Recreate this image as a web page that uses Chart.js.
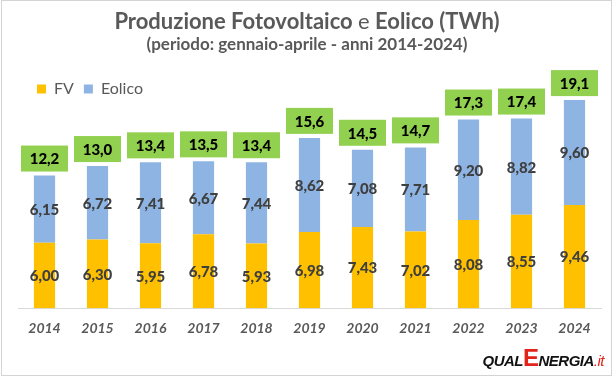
<!DOCTYPE html>
<html>
<head>
<meta charset="utf-8">
<script src="https://cdn.jsdelivr.net/npm/chart.js@4"></script>
<style>
    html, body { margin: 0; padding: 0; background: #fff; }
    #wrap { position: relative; width: 614px; height: 377px; overflow: hidden; font-family: Lato, "Open Sans", sans-serif; }
    #frame { position: absolute; left: 1px; top: 0px; width: 609px; height: 374px; border: 1px solid #d4d4d4; pointer-events: none; }
    #chart { position: absolute; left: 0; top: 0; }
    .title { position: absolute; left: 0; width: 614px; text-align: center; color: #595959; font-weight: 700; white-space: nowrap; }
    #t1 { top: 7px; font-size: 22px; }
    #t1 .thin { font-weight: 400; }
    #t2 { top: 33px; font-size: 17px; }
    #logo { position: absolute; right: 10px; top: 344px; font-family: "Liberation Sans", Arial, sans-serif; font-style: italic; font-weight: 700; font-size: 15px; color: #111; letter-spacing: -0.5px; white-space: nowrap; }
    #logo .e { color: #e2231a; font-size: 24px; font-style: normal; }
    #logo .it { color: #e2231a; font-weight: 400; }
</style>
</head>
<body>
<div id="wrap">
    <canvas id="chart" width="614" height="377"></canvas>
    <div class="title" id="t1">Produzione Fotovoltaico <span class="thin">e</span> Eolico (TWh)</div>
    <div class="title" id="t2">(periodo: gennaio-aprile - anni 2014-2024)</div>
    <div id="logo">QUAL<span class="e">E</span>NERGIA<span class="it">.it</span></div>
    <div id="frame"></div>
</div>
<script>
// data (TWh, gennaio-aprile)
const years = ['2014', '2015', '2016', '2017', '2018', '2019', '2020', '2021', '2022', '2023', '2024'];
const fv = [6.00, 6.30, 5.95, 6.78, 5.93, 6.98, 7.43, 7.02, 8.08, 8.55, 9.46];
const eolico = [6.15, 6.72, 7.41, 6.67, 7.44, 8.62, 7.08, 7.71, 9.20, 8.82, 9.60];
const totals = [12.2, 13.0, 13.4, 13.5, 13.4, 15.6, 14.5, 14.7, 17.3, 17.4, 19.1];

const FONT = 'Lato, "Open Sans", sans-serif';

const fmt = (v, d) => v.toFixed(d).replace('.', ',');

// values inside the bars + green total boxes on top
const barLabels = {
    id: 'barLabels',
    afterDatasetsDraw(chart) {
        const ctx = chart.ctx;
        const yScale = chart.scales.y;
        ctx.save();
        ctx.textAlign = 'center';
        ctx.textBaseline = 'middle';
        ctx.font = `900 15px ${FONT}`;
        ctx.fillStyle = '#3f3f3f';
        chart.data.datasets.forEach((ds, i) => {
            chart.getDatasetMeta(i).data.forEach((el, j) => {
                ctx.fillText(fmt(ds.data[j], 2), el.x, (el.y + el.base) / 2 + 1);
            });
        });
        const meta = chart.getDatasetMeta(1);
        meta.data.forEach((el, j) => {
            const bottom = yScale.getPixelForValue(fv[j] + eolico[j]) - 4;
            const w = 47, h = 26;
            ctx.fillStyle = '#92d050';
            ctx.fillRect(el.x - w / 2, bottom - h, w, h);
            ctx.fillStyle = '#000';
            ctx.fillText(fmt(totals[j], 1), el.x, bottom - h / 2 + 1);
        });
        ctx.restore();
    }
};

// legend drawn over the top of the plot, nudged right
const legendTweak = {
    id: 'legendTweak',
    afterLayout(chart) {
        const lg = chart.legend;
        const h = lg.height + 3;
        lg.top += h;
        lg.bottom += h;
        lg.left += 9;
        lg.right += 9;
    }
};

new Chart(document.getElementById('chart'), {
    type: 'bar',
    data: {
        labels: years,
        datasets: [
            { label: 'FV', data: fv, backgroundColor: '#ffc000' },
            { label: 'Eolico', data: eolico, backgroundColor: '#8eb4e3' }
        ]
    },
    options: {
        responsive: false,
        animation: false,
        devicePixelRatio: 1,
        layout: { padding: { left: 18, right: 13, top: 32, bottom: 36 } },
        datasets: { bar: { categoryPercentage: 0.8, barPercentage: 0.5 } },
        plugins: {
            legend: {
                position: 'top',
                align: 'start',
                labels: { boxWidth: 9, boxHeight: 9, padding: 10, color: '#595959', font: { family: FONT, size: 16 } }
            },
            tooltip: { enabled: false }
        },
        scales: {
            x: {
                stacked: true,
                grid: { display: false },
                border: { display: true, color: '#d9d9d9', width: 1 },
                ticks: { color: '#595959', padding: 4, font: { family: FONT, size: 14, style: 'italic', weight: 'bold' } }
            },
            y: {
                stacked: true,
                display: false,
                min: 0,
                max: 22
            }
        }
    },
    plugins: [barLabels, legendTweak]
});
</script>
</body>
</html>
